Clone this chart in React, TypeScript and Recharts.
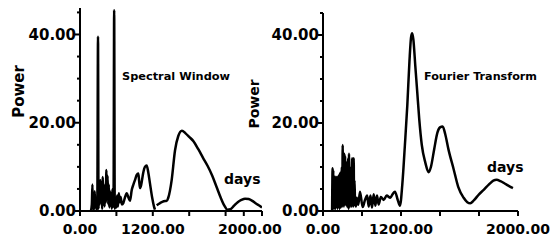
import React from "react";
import { LineChart, Line, XAxis, YAxis, Label } from "recharts";

// ---- data (x in axis units, power) ----
const spectralDays = [
  180, 195, 205, 212, 222, 232, 242, 252, 262, 272, 285, 297, 305, 315, 325, 335, 345, 355, 365, 375,
  385, 395, 405, 415, 425, 435, 445, 455, 465, 475, 485, 495, 505, 515, 525, 535, 545, 553, 563, 573,
  585, 598, 612, 625, 640, 655, 670, 690, 714, 740, 770, 800, 824, 852, 880, 906, 935, 961, 975, 989,
  1010, 1040, 1070, 1099, 1125, 1154, 1190, 1220, 1236, 1250, 1264, 1320, 1380, 1428, 1455, 1511, 1566, 1620, 1680, 1740,
  1800, 1870, 1950, 2030, 2100, 2180, 2250, 2320, 2380, 2430, 2480, 2540, 2600, 2660, 2720, 2780, 2840, 2900, 2960, 3000,
];
const spectralPower: (number | null)[] = [
  0, 1.5, 6, 0.5, 3.5, 0.3, 4.5, 1, 2.5, 0.3, 1, 39.5, 0.5, 5, 1.5, 7, 2, 4, 0.5, 7.7,
  3, 6, 1, 5.5, 2, 9.3, 4, 8, 1.5, 6, 0.8, 4.5, 1.5, 3.5, 0.5, 5, 1, 2, 45.5, 0.5,
  3, 0.8, 3.5, 1, 4, 2, 3.2, 1.5, 1.8, 3, 4, 3, 2.3, 4.7, 6, 7, 8.2, 8.5, 6.8, 5.2,
  6, 8.5, 10, 10.3, 8.8, 6.2, 3, 1, 0.3, null, 1.3, 1.8, 2.2, 2.3, 3, 7, 13.7, 17, 18.2, 17.6,
  16.8, 15.8, 14, 12, 10.3, 8, 5.5, 3, 1.2, 0.3, 0.4, 1.2, 2, 2.5, 2.8, 2.7, 2.3, 1.7, 1.2, 0.8,
];

const fourierDays = [
  140, 148, 153, 158, 163, 168, 173, 178, 183, 188, 193, 198, 203, 208, 213, 218, 223, 228, 233, 238,
  243, 248, 253, 258, 263, 268, 273, 278, 283, 290, 296, 303, 310, 316, 322, 328, 334, 340, 346, 352,
  358, 364, 370, 376, 382, 388, 394, 400, 406, 412, 418, 424, 430, 436, 442, 448, 454, 460, 466, 472,
  478, 485, 492, 505, 520, 543, 569, 610, 646, 680, 703, 730, 754, 780, 805, 830, 856, 890, 933, 980,
  1036, 1070, 1107, 1150, 1184, 1220, 1260, 1297, 1330, 1355, 1372, 1390, 1420, 1450, 1480, 1520, 1574, 1625, 1660, 1710,
  1760, 1800, 1841, 1880, 1930, 2010, 2080, 2164, 2220, 2266, 2320, 2400, 2472, 2550, 2620, 2671, 2730, 2800, 2870, 2922,
];
const fourierPower = [
  0, 9.7, 1, 9.3, 2, 8, 0.5, 7.8, 1.5, 7.5, 0.5, 7.8, 2, 7.5, 1, 7.8, 0.5, 7.6, 2, 8,
  1, 7.5, 0.5, 8.5, 1.5, 7.8, 0.8, 9, 2, 10, 1, 15, 2, 11, 1, 13, 3, 12.5, 1.5, 10,
  2, 11, 1, 8, 2, 12, 0.5, 13, 2, 9, 1, 8, 2.5, 10, 1, 12, 2, 8, 1, 12,
  3, 7, 2.5, 1, 3, 1.4, 4.4, 0.9, 2.5, 3.5, 1, 3.5, 0.8, 3.8, 1.2, 3.5, 1.5, 3.2, 2.5, 3.5,
  3, 3.8, 4.4, 2.5, 1.2, 6, 15, 24, 34, 39.5, 40.4, 39, 33, 27, 21, 15, 11, 8.8, 10, 14,
  17.8, 19, 19.2, 17.5, 14, 9.5, 5.5, 3, 2, 1.75, 2.4, 3.8, 4.8, 6, 6.9, 7.1, 6.8, 6.2, 5.6, 5.2,
];

const yTicks = [0, 5, 10, 15, 20, 25, 30, 35, 40, 45];
const yTickLabels: Record<number, string> = { 0: "0.00", 20: "20.00", 40: "40.00" };
const xTickMarks = [0, 600, 1200, 1800, 2400, 2700, 3000];
const leftXLabels: Record<number, string> = { 0: "0.00", 1200: "1200.00", 2800: "2000.00" };
const rightXLabels: Record<number, string> = { 0: "0.00", 1200: "1200.00", 3000: "2000.00" };

const spectralData = spectralDays.map((d, i) => ({ x: d, p: spectralPower[i] }));
const fourierData = fourierDays.map((d, i) => ({ x: d, p: fourierPower[i] }));

const FONT = "DejaVu Sans";

const makeXTick = (labels: Record<number, string>) => (props: any) => {
  const { x, y, payload } = props;
  const v = payload.value;
  const label = labels[v];
  return (
    <g>
      {xTickMarks.includes(v) && (
        <line x1={x} x2={x} y1={y} y2={y + 5} stroke="#000" strokeWidth={2} />
      )}
      {label && (
        <text x={x} y={y + 23} textAnchor="middle" fontFamily={FONT} fontWeight="bold" fontSize={14} fill="#000">
          {label}
        </text>
      )}
    </g>
  );
};

const YTick = (props: any) => {
  const { x, y, payload } = props;
  const v = payload.value;
  const label = yTickLabels[v];
  return (
    <g>
      <line x1={x - (label ? 5 : 3)} x2={x} y1={y} y2={y} stroke="#000" strokeWidth={2} />
      {label && (
        <text x={x - 4} y={y} dy="0.36em" textAnchor="end" fontFamily={FONT} fontWeight="bold" fontSize={15} fill="#000">
          {label}
        </text>
      )}
    </g>
  );
};

const powerLabel = (dx: number, dy: number, size: number) => (props: any) => {
  const vb = props.viewBox || {};
  const cx = vb.x + dx;
  const cy = vb.y + vb.height / 2 + dy;
  return (
    <text
      x={cx}
      y={cy}
      transform={`rotate(-90 ${cx} ${cy})`}
      textAnchor="middle"
      dominantBaseline="central"
      fontFamily={FONT}
      fontWeight="bold"
      fontSize={size}
      fill="#000"
    >
      Power
    </text>
  );
};

export default function App() {
  return (
    <div style={{ position: "absolute", left: 0, top: 0, width: 554, height: 243, background: "#fff" }}>
      <div style={{ position: "absolute", left: 0, top: 0 }}>
        <LineChart width={300} height={243} data={spectralData} margin={{ top: 8, right: 38, bottom: 0, left: 0 }}>
          <XAxis
            dataKey="x"
            type="number"
            domain={[0, 3000]}
            ticks={[0, 600, 1200, 1800, 2400, 2700, 2800, 3000]}
            interval={0}
            tickSize={0}
            tickMargin={0}
            tickLine={false}
            tick={makeXTick(leftXLabels)}
            axisLine={{ stroke: "#000", strokeWidth: 2 }}
            height={32}
            allowDataOverflow
          />
          <YAxis
            type="number"
            domain={[0, 46]}
            ticks={yTicks}
            interval={0}
            tickSize={0}
            tickMargin={0}
            tickLine={false}
            tick={YTick}
            axisLine={{ stroke: "#000", strokeWidth: 2 }}
            width={80}
            allowDataOverflow
          >
            <Label content={powerLabel(19, -18, 15)} />
          </YAxis>
          <Line
            dataKey="p"
            type="monotone"
            stroke="#000"
            strokeWidth={2.5}
            dot={false}
            connectNulls={false}
            isAnimationActive={false}
          />
        </LineChart>
      </div>
      <div style={{ position: "absolute", left: 240, top: 0 }}>
        <LineChart width={314} height={243} data={fourierData} margin={{ top: 13, right: 36, bottom: 0, left: 0 }}>
          <XAxis
            dataKey="x"
            type="number"
            domain={[0, 3000]}
            ticks={[0, 600, 1200, 1800, 2400, 3000]}
            interval={0}
            tickSize={0}
            tickMargin={0}
            tickLine={false}
            tick={makeXTick(rightXLabels)}
            axisLine={{ stroke: "#000", strokeWidth: 2 }}
            height={32}
            allowDataOverflow
          />
          <YAxis
            type="number"
            domain={[0, 45]}
            ticks={yTicks}
            interval={0}
            tickSize={0}
            tickMargin={0}
            tickLine={false}
            tick={YTick}
            axisLine={{ stroke: "#000", strokeWidth: 2 }}
            width={83}
            allowDataOverflow
          >
            <Label content={powerLabel(14, -8, 14)} />
          </YAxis>
          <Line
            dataKey="p"
            type="monotone"
            stroke="#000"
            strokeWidth={2.5}
            dot={false}
            isAnimationActive={false}
          />
        </LineChart>
      </div>
      <svg
        width={554}
        height={243}
        style={{ position: "absolute", left: 0, top: 0, pointerEvents: "none" }}
      >
        <g fontFamily={FONT} fontWeight="bold" fill="#000">
          <text x={122} y={80} fontSize={11} textLength={108} lengthAdjust="spacingAndGlyphs">
            Spectral Window
          </text>
          <text x={424} y={80} fontSize={11} textLength={113} lengthAdjust="spacingAndGlyphs">
            Fourier Transform
          </text>
          <text x={224} y={184} fontSize={14}>
            days
          </text>
          <text x={487} y={172} fontSize={14}>
            days
          </text>
        </g>
      </svg>
    </div>
  );
}
